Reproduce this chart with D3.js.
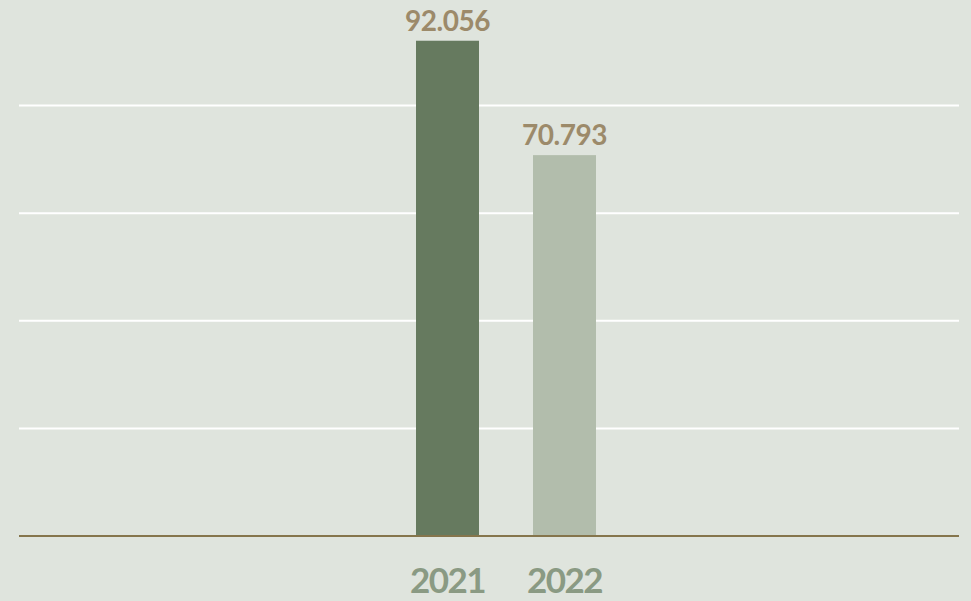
<!DOCTYPE html>
<html lang="en">
<head>
    <meta charset="UTF-8">
    <title>2021 vs 2022</title>
    <script src="https://d3js.org/d3.v7.min.js"></script>
    <style>
        body {
            margin: 0;
            background: #dfe4dd;
        }
        svg {
            display: block;
        }
        .value-label {
            font-family: Lato, "Open Sans", sans-serif;
            font-weight: 700;
            font-size: 28px;
            letter-spacing: -0.5px;
            fill: #9c8a6a;
        }
        .year-label {
            font-family: Lato, "Open Sans", sans-serif;
            font-weight: 700;
            font-size: 35px;
            letter-spacing: -1.5px;
            fill: #8a9a83;
        }
    </style>
</head>
<body>
<div id="chart"></div>
<script>
    const years = ["2021", "2022"];
    const values = [92.056, 70.793];
    const barColors = ["#667a5f", "#b2bdac"];
    const gridValues = [20, 40, 60, 80, 100];

    const width = 971;
    const height = 601;
    const left = 19, right = 959;
    const baseY = 536;

    const svg = d3.select("#chart")
        .append("svg")
        .attr("width", width)
        .attr("height", height);

    svg.append("rect")
        .attr("width", width)
        .attr("height", height)
        .attr("fill", "#dfe4dd");

    const y = d3.scaleLinear()
        .domain([0, 100])
        .range([baseY, -2]);

    // two bands of 117px step, bars 63px wide
    const pad = 54 / 117;
    const x = d3.scaleBand()
        .domain(years)
        .range([389, 623])
        .paddingInner(pad)
        .paddingOuter(pad / 2);

    // gridlines
    svg.selectAll(".grid")
        .data(gridValues)
        .enter()
        .append("line")
        .attr("class", "grid")
        .attr("x1", left)
        .attr("x2", right)
        .attr("y1", d => y(d))
        .attr("y2", d => y(d))
        .attr("stroke", "#ffffff")
        .attr("stroke-width", 2);

    const data = years.map((yr, i) => ({ year: yr, value: values[i], color: barColors[i] }));

    svg.selectAll(".bar")
        .data(data)
        .enter()
        .append("rect")
        .attr("class", "bar")
        .attr("x", d => x(d.year))
        .attr("width", x.bandwidth())
        .attr("y", d => y(d.value))
        .attr("height", d => baseY - y(d.value))
        .attr("fill", d => d.color);

    // baseline
    svg.append("line")
        .attr("x1", left)
        .attr("x2", right)
        .attr("y1", baseY)
        .attr("y2", baseY)
        .attr("stroke", "#85754c")
        .attr("stroke-width", 2);

    svg.selectAll(".value-label")
        .data(data)
        .enter()
        .append("text")
        .attr("class", "value-label")
        .attr("x", d => x(d.year) + x.bandwidth() / 2)
        .attr("y", d => y(d.value) - 10)
        .attr("text-anchor", "middle")
        .text(d => d.value.toFixed(3));

    svg.selectAll(".year-label")
        .data(data)
        .enter()
        .append("text")
        .attr("class", "year-label")
        .attr("x", d => x(d.year) + x.bandwidth() / 2)
        .attr("y", 593)
        .attr("text-anchor", "middle")
        .text(d => d.year);
</script>
</body>
</html>
